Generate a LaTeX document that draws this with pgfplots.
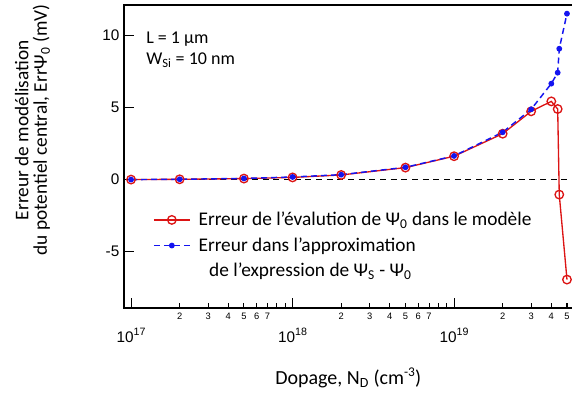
\documentclass[border=0pt]{standalone}
\usepackage{pgfplots}
\pgfplotsset{compat=1.18}
\usepackage{fontspec}
\setmainfont{Carlito}
\newfontfamily\arial{Liberation Sans}
\definecolor{myred}{RGB}{220,20,20}
\definecolor{myblue}{RGB}{20,20,240}
\begin{document}
\begin{tikzpicture}
\begin{axis}[
  scale only axis,
  width=338.25pt, height=227.25pt,
  xmode=log,
  xmin=9.05e16, xmax=5.61e19,
  ymin=-8.9, ymax=12.1,
  axis line style={line width=0.9pt},
  tick align=inside,
  tick pos=left,
  major tick length=7.5pt,
  every tick/.style={black, line width=0.8pt},
  xtick={1e17,1e18,1e19},
  xticklabels={{10\raisebox{5.5pt}{\fontsize{8}{9}\selectfont 17}},{10\raisebox{5.5pt}{\fontsize{8}{9}\selectfont 18}},{10\raisebox{5.5pt}{\fontsize{8}{9}\selectfont 19}}},
  minor xtick={},
  xticklabel shift=11.5pt,
  xticklabel style={font=\arial\fontsize{11.5}{13}\selectfont},
  extra x ticks={2e17,3e17,4e17,5e17,6e17,7e17,8e17,9e17,2e18,3e18,4e18,5e18,6e18,7e18,8e18,9e18,2e19,3e19,4e19,5e19},
  extra x tick labels={2,3,4,5,6,7,,,2,3,4,5,6,7,,,2,3,4,5},
  extra x tick style={major tick length=4pt, xticklabel shift=0pt, xticklabel style={font=\arial\fontsize{7}{8}\selectfont}},
  ytick={-5,0,5,10},
  yticklabels={-5,0,5,10},
  yticklabel style={font=\arial\fontsize{11.5}{13}\selectfont},
  xlabel={Dopage, N\textsubscript{D} (cm\raisebox{6pt}{\fontsize{10}{11}\selectfont -3})},
  xlabel style={font=\fontsize{15}{17}\selectfont, at={(axis description cs:0.497,-0.23)}, anchor=center},
  ylabel={Erreur de modélisation\\du potentiel central, ErrΨ\textsubscript{0} (mV)},
  ylabel style={font=\fontsize{14.5}{14}\selectfont, align=center, at={(axis description cs:-0.203,0.587)}, anchor=center},
  legend style={draw=none, fill=none, at={(axis description cs:0.055,0.335)}, anchor=north west, font=\fontsize{14.5}{16}\selectfont, row sep=3.5pt},
  legend image code/.code={\draw[mark repeat=2, mark phase=2] plot coordinates {(0pt,0pt) (13.5pt,0pt) (27pt,0pt)};},
  legend cell align=left,
  clip=false,
]
\addplot[black, dashed, line width=0.7pt, dash pattern=on 4.5pt off 3.5pt, forget plot] coordinates {(9.05e16,0) (5.61e19,0)};
\addplot[myred, line width=1pt, mark=o, mark size=3.2pt, mark options={solid, line width=1pt}] coordinates {
(1e17,0) (2e17,0.02) (5e17,0.07) (1e18,0.15) (2e18,0.32) (5e18,0.83) (1e19,1.62) (2e19,3.18) (3e19,4.73) (4e19,5.42) (4.38e19,4.89) (4.48e19,-1.04) (5e19,-6.93)};
\addlegendentry{\hspace{4pt}Erreur de l'évalution de Ψ\textsubscript{0} dans le modèle}
\addplot[myblue, line width=1.1pt, dash pattern=on 4.5pt off 3pt, mark=*, mark size=1.6pt, mark options={solid}] coordinates {
(1e17,0) (2e17,0.02) (5e17,0.08) (1e18,0.18) (2e18,0.34) (5e18,0.85) (1e19,1.64) (2e19,3.28) (3e19,4.87) (4e19,6.65) (4.38e19,7.41) (4.48e19,9.07) (5e19,11.5)};
\addlegendentry{\hspace{4pt}Erreur dans l'approximation}
\addlegendimage{empty legend}
\addlegendentry{\hspace{12pt}de l'expression de Ψ\textsubscript{S} - Ψ\textsubscript{0}}
\node[anchor=base west, inner sep=0pt, font=\fontsize{13.5}{15}\selectfont] at (axis description cs:0.0488,0.8736) {L = 1 µm};
\node[anchor=base west, inner sep=0pt, font=\fontsize{13.5}{15}\selectfont] at (axis description cs:0.0488,0.802) {W\textsubscript{Si} = 10 nm};
\coordinate (sw) at (rel axis cs:0,0);
\end{axis}
\pgfresetboundingbox
\path[use as bounding box] ([xshift=-93pt,yshift=-66pt]sw) rectangle ++(429pt,297pt);
\end{tikzpicture}
\end{document}
